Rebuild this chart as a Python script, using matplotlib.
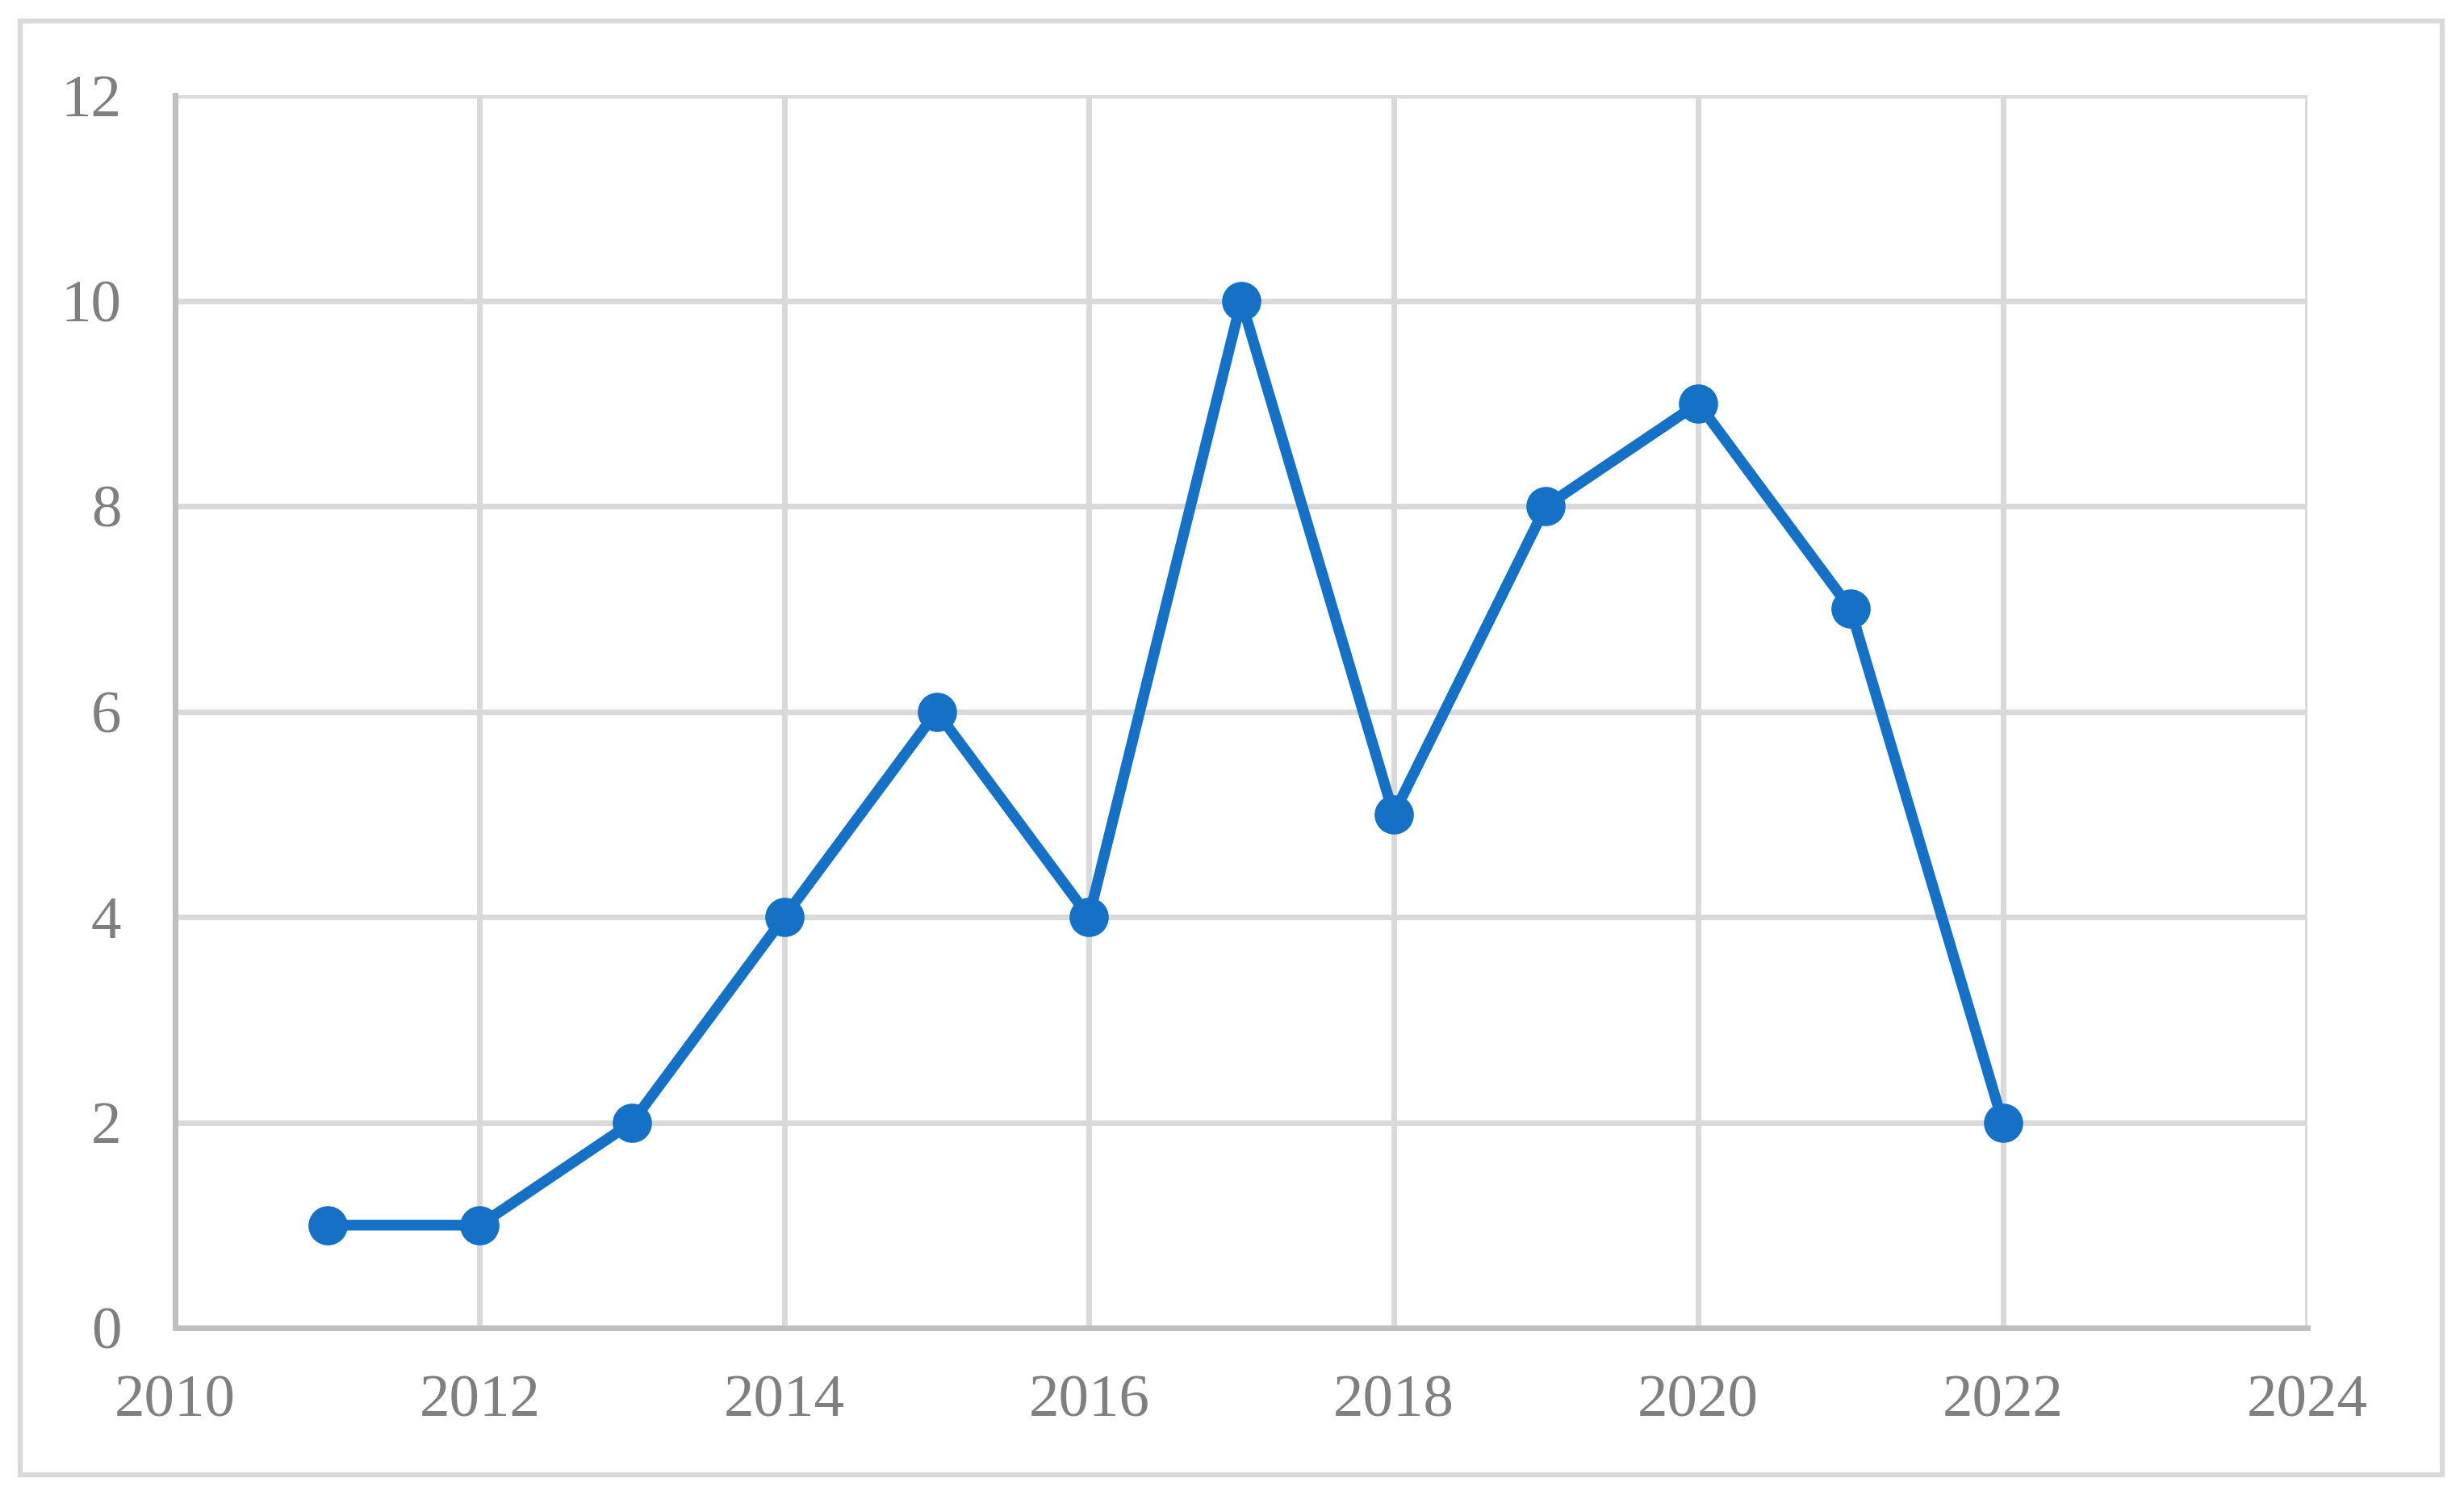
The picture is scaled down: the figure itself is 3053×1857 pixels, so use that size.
import numpy as np
import matplotlib
matplotlib.use("Agg")
import matplotlib.pyplot as plt
from matplotlib.patches import Rectangle

# data
years = [2011, 2012, 2013, 2014, 2015, 2016, 2017, 2018, 2019, 2020, 2021, 2022]
counts = [1, 1, 2, 4, 6, 4, 10, 5, 8, 9, 7, 2]
x_ticks = list(range(2010, 2025, 2))
y_ticks = list(range(0, 13, 2))

W, H, DPI = 3053, 1857, 100
plt.rcParams['font.family'] = ['Liberation Serif', 'DejaVu Serif']

fig = plt.figure(figsize=(W / DPI, H / DPI), dpi=DPI)
fig.patch.set_facecolor('white')

# plot area in pixel coords
left, right, top, bottom = 217, 2859, 118, 1645
ax = fig.add_axes([left / W, 1 - bottom / H, (right - left) / W, (bottom - top) / H])

grid_c = '#D9D9D9'
spine_c = '#BFBFBF'
text_c = '#7F7F7F'
line_c = '#1571C6'

ax.plot(years, counts, color=line_c, lw=9.6, marker='o', ms=35, mew=0, zorder=3,
        solid_joinstyle='round', clip_on=False)

ax.set_xlim(2010, 2024)
ax.set_ylim(0, 12)
ax.set_xticks(x_ticks)
ax.set_yticks(y_ticks)
ax.grid(True, color=grid_c, lw=5)
ax.set_axisbelow(True)

for s in ['top', 'right']:
    ax.spines[s].set_visible(False)
for s in ['left', 'bottom']:
    ax.spines[s].set_color(spine_c)
    ax.spines[s].set_linewidth(5)
    ax.spines[s].set_zorder(2.5)

ax.tick_params(axis='both', length=0, labelsize=54, labelcolor=text_c)
ax.tick_params(axis='x', pad=42)
ax.tick_params(axis='y', pad=48)

# outer chart border
fig.patches.append(Rectangle((25 / W, 1 - 1827 / H), (3026 - 25) / W, (1827 - 26) / H,
                             transform=fig.transFigure, fill=False,
                             edgecolor=grid_c, lw=4.5))

fig.savefig('out.png', dpi=DPI, facecolor='white')
